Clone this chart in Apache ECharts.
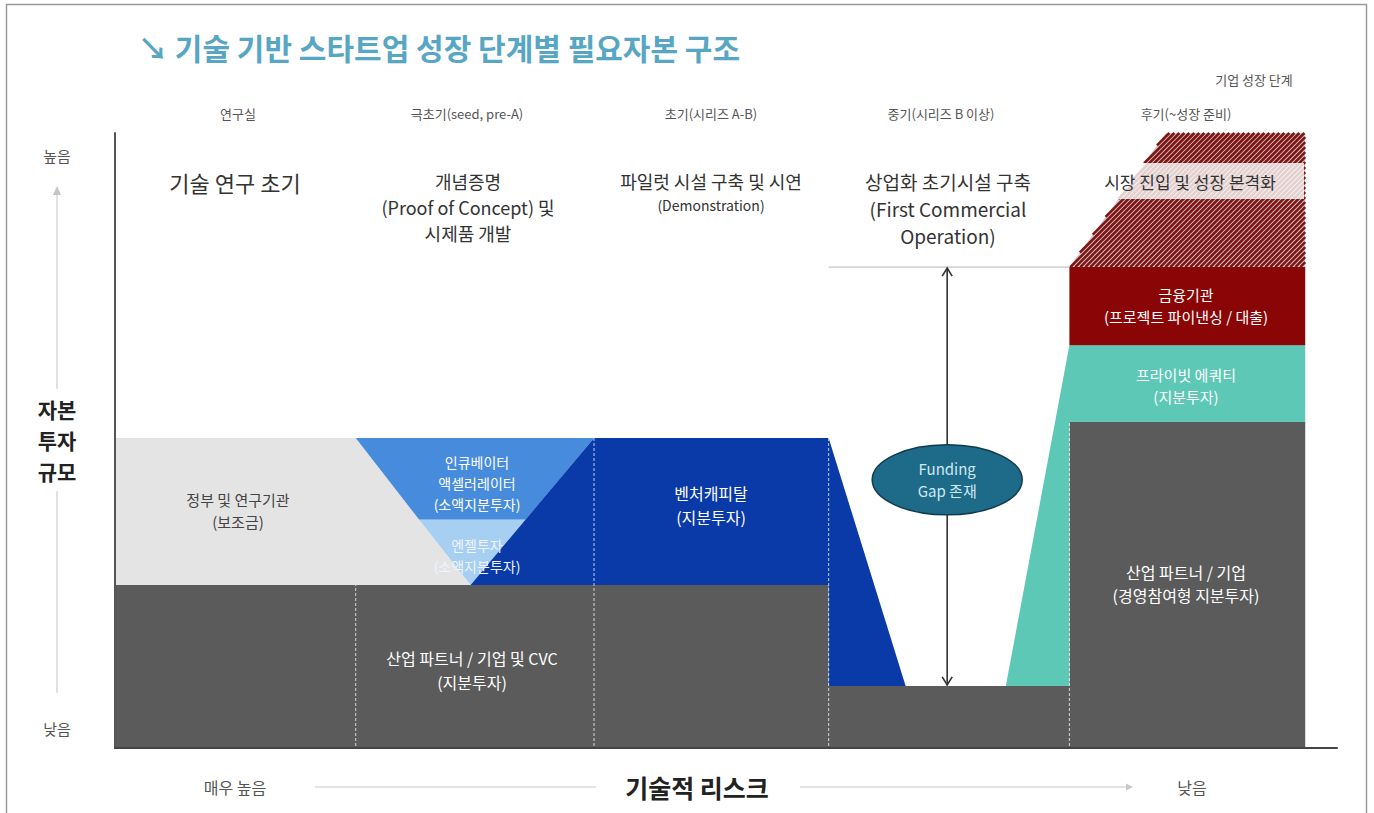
<!DOCTYPE html>
<html><head><meta charset="utf-8">
<script src="https://cdn.jsdelivr.net/npm/echarts@6/dist/echarts.min.js"></script>
<style>html,body{margin:0;padding:0;background:#fff}#c{width:1374px;height:813px}</style>
</head><body><div id="c"></div>
<script>
// ---------- DATA (x: 기술 성숙도 0..100, y: 자본 투자 규모 0..100) ----------
const stageNames = ['연구실', '극초기(seed, pre-A)', '초기(시리즈 A-B)', '중기(시리즈 B 이상)', '후기(~성장 준비)'];
const stageEdges = [0, 19.7, 39.2, 58.4, 78.1, 97.4];
const industryTop = [26.5, 26.5, 26.5, 10.1, 53.0];
const separatorTop = [26.5, 50.4, 50.4, 53.0];
const government = [[0, 26.5], [0, 50.4], [19.7, 50.4], [29.1, 26.5]];
const incubator = [[19.7, 50.4], [39.2, 50.4], [33.6, 37.1], [24.9, 37.1]];
const angel = [[24.9, 37.1], [33.6, 37.1], [29.1, 26.5]];
const venture = [[29.1, 26.5], [39.2, 50.4], [58.4, 50.4], [64.7, 10.1], [58.4, 10.1], [58.4, 26.5]];
const privateEquity = [[72.9, 10.1], [78.1, 65.5], [97.4, 65.5], [97.4, 53.0], [78.1, 53.0], [78.1, 10.1]];
const financeInst = [[78.1, 65.5], [78.1, 78.2], [97.4, 78.2], [97.4, 65.5]];
const marketEntry = [[78.1, 78.2], [86.0, 100], [97.4, 100], [97.4, 78.2]];
const fundingGap = { x: 68.1, top: 78.2, bottom: 10.1, gapLineFrom: 58.4, gapLineTo: 78.1, ellipseY: 43.6 };

const industryBase = [[0, 0]];
industryTop.forEach((t, i) => { industryBase.push([stageEdges[i], t], [stageEdges[i + 1], t]); });
industryBase.push([stageEdges[5], 0]);

const FONT = '"Noto Sans CJK KR", "Noto Sans", sans-serif';

const layers = [
  { name: '산업 파트너 / 기업', pts: industryBase, color: '#5b5b5b' },
  { name: '정부 및 연구기관', pts: government, color: '#e4e4e4' },
  { name: '인큐베이터 액셀러레이터', pts: incubator, color: '#478cdc' },
  { name: '엔젤투자', pts: angel, color: '#a6cff2' },
  { name: '벤처캐피탈', pts: venture, color: '#0a3aa8' },
  { name: '프라이빗 에쿼티', pts: privateEquity, color: '#5cc8b5' },
  { name: '금융기관', pts: financeInst, color: '#8a0606' },
  { name: '시장 진입 및 성장 본격화', pts: marketEntry, hatch: true }
];

function clipLine(p0, d, poly) {
  let t0 = -1e5, t1 = 1e5;
  const n = poly.length;
  let cx = 0, cy = 0; poly.forEach(p => { cx += p[0]; cy += p[1]; }); cx /= n; cy /= n;
  for (let i = 0; i < n; i++) {
    const a = poly[i], b = poly[(i + 1) % n];
    let nx = b[1] - a[1], ny = -(b[0] - a[0]);
    if (nx * (cx - a[0]) + ny * (cy - a[1]) > 0) { nx = -nx; ny = -ny; }
    const num = nx * (p0[0] - a[0]) + ny * (p0[1] - a[1]);
    const den = nx * d[0] + ny * d[1];
    if (Math.abs(den) < 1e-9) { if (num > 0) return null; continue; }
    const t = -num / den;
    if (den < 0) t0 = Math.max(t0, t); else t1 = Math.min(t1, t);
  }
  if (t0 >= t1) return null;
  return [[p0[0] + t0 * d[0], p0[1] + t0 * d[1]], [p0[0] + t1 * d[0], p0[1] + t1 * d[1]]];
}

const series = layers.map(L => ({
  type: 'custom', name: L.name, coordinateSystem: 'cartesian2d', silent: true, clip: false,
  data: [[0, 0]], encode: { x: 0, y: 1 },
  renderItem: (params, api) => {
    const pts = L.pts.map(p => api.coord(p));
    if (!L.hatch) return { type: 'polygon', shape: { points: pts }, style: { fill: L.color } };
    const xs = pts.map(p => p[0]), ys = pts.map(p => p[1]);
    const minX = Math.min(...xs), maxX = Math.max(...xs), maxY = Math.max(...ys), minY = Math.min(...ys);
    const H = maxY - minY;
    const children = [{ type: 'polygon', shape: { points: pts }, style: { fill: '#d4caca' } }];
    for (let x = minX - H - 10; x <= maxX + 10; x += 5) {
      const seg = clipLine([x, maxY], [1, -1], pts);
      if (seg) children.push({ type: 'line', shape: { x1: seg[0][0], y1: seg[0][1], x2: seg[1][0], y2: seg[1][1] }, style: { stroke: '#7e1414', lineWidth: 2.6 } });
    }
    return { type: 'group', children };
  }
}));

const chart = echarts.init(document.getElementById('c'), null, { renderer: 'svg' });
chart.setOption({
  animation: false,
  backgroundColor: '#fff',
  grid: { left: 115, right: 37, top: 133, bottom: 65 },
  xAxis: { type: 'value', min: 0, max: 100, z: 10, axisLine: { lineStyle: { color: '#444', width: 2 } }, axisTick: { show: false }, axisLabel: { show: false }, splitLine: { show: false } },
  yAxis: { type: 'value', min: 0, max: 100, z: 10, axisLine: { show: true, lineStyle: { color: '#555', width: 2 } }, axisTick: { show: false }, axisLabel: { show: false }, splitLine: { show: false } },
  series
});

const px = (x, y) => chart.convertToPixel({ gridIndex: 0 }, [x, y]);
function T(text, x, y, size, color, o) {
  o = o || {};
  return { type: 'text', x, y, z: 100, silent: true, style: { text, fontSize: size, fontFamily: FONT, fill: color, align: o.align || 'center', verticalAlign: 'middle', lineHeight: o.lh || Math.round(size * 1.45), fontWeight: o.bold ? 'bold' : 'normal' } };
}
const G = [];
// outer frame
G.push({ type: 'rect', z: 1, shape: { x: 6.5, y: 4.5, width: 1360, height: 830 }, style: { fill: 'none', stroke: '#9a9a9a', lineWidth: 1.5 } });
// separators
separatorTop.forEach((t, i) => {
  const a = px(stageEdges[i + 1], 0), b = px(stageEdges[i + 1], t);
  G.push({ type: 'line', z: 50, shape: { x1: a[0], y1: a[1] - 2, x2: b[0], y2: b[1] }, style: { stroke: 'rgba(255,255,255,0.75)', lineWidth: 1, lineDash: [3, 2] } });
});
// funding gap
const g1 = px(fundingGap.gapLineFrom, fundingGap.top), g2 = px(fundingGap.gapLineTo, fundingGap.top);
G.push({ type: 'line', z: 50, shape: { x1: g1[0], y1: g1[1], x2: g2[0], y2: g2[1] }, style: { stroke: '#b5b5b5', lineWidth: 1 } });
const at = px(fundingGap.x, fundingGap.top), ab = px(fundingGap.x, fundingGap.bottom);
G.push({ type: 'line', z: 50, shape: { x1: at[0], y1: at[1] + 1, x2: ab[0], y2: ab[1] - 1 }, style: { stroke: '#333', lineWidth: 1.6 } });
G.push({ type: 'polyline', z: 50, shape: { points: [[at[0] - 5, at[1] + 9], [at[0], at[1] + 1], [at[0] + 5, at[1] + 9]] }, style: { stroke: '#333', lineWidth: 1.6, fill: 'none' } });
G.push({ type: 'polyline', z: 50, shape: { points: [[ab[0] - 5, ab[1] - 9], [ab[0], ab[1] - 1], [ab[0] + 5, ab[1] - 9]] }, style: { stroke: '#333', lineWidth: 1.6, fill: 'none' } });
const ec = px(fundingGap.x, fundingGap.ellipseY);
G.push({ type: 'ellipse', z: 60, shape: { cx: ec[0], cy: ec[1], rx: 75, ry: 35 }, style: { fill: '#1e6a89', stroke: '#103c50', lineWidth: 1.5 } });
G.push(T('Funding\nGap 존재', ec[0], ec[1], 15, '#cfe9f3', { lh: 22 }));
// market label band
G.push({ type: 'rect', z: 60, shape: { x: 1075, y: 163, width: 229, height: 36 }, style: { fill: 'rgba(255,255,255,0.8)' } });
G.push(T('시장 진입 및 성장 본격화', 1190, 181, 17, '#333'));

// title
G.push(T('↘ 기술 기반 스타트업 성장 단계별 필요자본 구조', 138, 47, 30, '#56a6c4', { align: 'left', bold: true }));
G.push(T('기업 성장 단계', 1254, 79, 13, '#555'));
const stageX = [238, 467, 711, 941, 1186];
stageNames.forEach((s, i) => G.push(T(s, stageX[i], 113, 13, '#555')));

// stage descriptions
G.push(T('기술 연구 초기', 235, 182, 22, '#333'));
G.push(T('개념증명\n(Proof of Concept) 및\n시제품 개발', 468, 207, 18, '#333', { lh: 26 }));
G.push(T('파일럿 시설 구축 및 시연', 711, 181, 18, '#333'));
G.push(T('(Demonstration)', 711, 205, 14, '#333'));
G.push(T('상업화 초기시설 구축\n(First Commercial\nOperation)', 948, 208, 19, '#333', { lh: 27 }));

// region labels
G.push(T('정부 및 연구기관\n(보조금)', 238, 510, 15, '#444', { lh: 22 }));
G.push(T('인큐베이터\n액셀러레이터\n(소액지분투자)', 477, 483, 14, '#ffffff', { lh: 21 }));
G.push(T('엔젤투자\n(소액지분투자)', 477, 555, 14, '#eef5ff', { lh: 21 }));
G.push(T('벤처캐피탈\n(지분투자)', 711, 505, 16, '#ffffff', { lh: 24 }));
G.push(T('산업 파트너 / 기업 및 CVC\n(지분투자)', 472, 670, 16, '#ffffff', { lh: 24 }));
G.push(T('금융기관\n(프로젝트 파이낸싱 / 대출)', 1186, 305, 15, '#ffffff', { lh: 22 }));
G.push(T('프라이빗 에쿼티\n(지분투자)', 1186, 385, 15, '#ffffff', { lh: 22 }));
G.push(T('산업 파트너 / 기업\n(경영참여형 지분투자)', 1186, 583, 16, '#ffffff', { lh: 23 }));

// left axis title
G.push(T('높음', 57, 155, 15, '#555'));
G.push(T('낮음', 57, 728, 15, '#555'));
G.push(T('자본\n투자\n규모', 57, 440, 21, '#222', { bold: true, lh: 31 }));
G.push({ type: 'line', z: 20, shape: { x1: 57, y1: 190, x2: 57, y2: 389 }, style: { stroke: '#c4c4c4', lineWidth: 1 } });
G.push({ type: 'polygon', z: 20, shape: { points: [[53, 195], [61, 195], [57, 186]] }, style: { fill: '#c4c4c4' } });
G.push({ type: 'line', z: 20, shape: { x1: 57, y1: 491, x2: 57, y2: 693 }, style: { stroke: '#c4c4c4', lineWidth: 1 } });

// bottom axis title
G.push(T('매우 높음', 235, 787, 16, '#555'));
G.push(T('기술적 리스크', 697, 787, 25, '#222', { bold: true }));
G.push(T('낮음', 1192, 787, 16, '#555'));
G.push({ type: 'line', z: 20, shape: { x1: 315, y1: 787, x2: 596, y2: 787 }, style: { stroke: '#c8c8c8', lineWidth: 1 } });
G.push({ type: 'line', z: 20, shape: { x1: 800, y1: 787, x2: 1128, y2: 787 }, style: { stroke: '#c8c8c8', lineWidth: 1 } });
G.push({ type: 'polygon', z: 20, shape: { points: [[1126, 783.5], [1126, 790.5], [1133, 787]] }, style: { fill: '#c8c8c8' } });

chart.setOption({ graphic: { elements: G } });
</script></body></html>
